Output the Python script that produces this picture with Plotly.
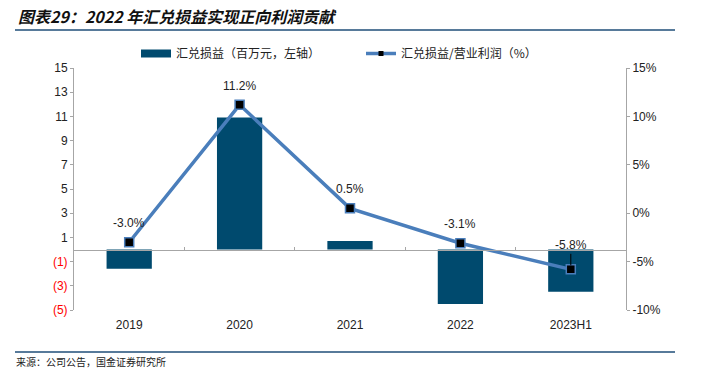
import plotly.graph_objects as go

categories = ["2019", "2020", "2021", "2022", "2023H1"]
fx_gain = [-1.6, 10.9, 0.7, -4.5, -3.5]          # 汇兑损益（百万元）
fx_ratio = [-3.0, 11.2, 0.5, -3.1, -5.8]         # 汇兑损益/营业利润（%）
ratio_labels = ["-3.0%", "11.2%", "0.5%", "-3.1%", "-5.8%"]
left_ticks = [15, 13, 11, 9, 7, 5, 3, 1, -1, -3, -5]
left_ticktext = ["15", "13", "11", "9", "7", "5", "3", "1",
                 "<span style='color:#FF0000'>(1)</span>",
                 "<span style='color:#FF0000'>(3)</span>",
                 "<span style='color:#FF0000'>(5)</span>"]
right_ticks = [15, 10, 5, 0, -5, -10]
right_ticktext = ["15%", "10%", "5%", "0%", "-5%", "-10%"]

BAR = "#004A6E"
LINE = "#4A7EBB"
FONT = "Liberation Sans, Arial, sans-serif"
CJK = "Noto Sans CJK SC"

fig = go.Figure()
fig.add_trace(go.Bar(
    x=categories, y=fx_gain, name="汇兑损益（百万元，左轴）", showlegend=False,
    marker=dict(color=BAR, line=dict(width=0)), yaxis="y", xaxis="x",
))
fig.add_trace(go.Scatter(
    x=categories, y=fx_ratio, name="汇兑损益/营业利润（%）", showlegend=False,
    mode="lines+markers",
    line=dict(color=LINE, width=3.5),
    marker=dict(symbol="square", size=9, color="#000000", line=dict(color=LINE, width=1.5)),
    yaxis="y2", xaxis="x", cliponaxis=False,
))
# legend entries styled like the reference (no visible data)
fig.add_trace(go.Scatter(x=categories[:1], y=[None], mode="lines", name="汇兑损益（百万元，左轴）",
                         line=dict(color=BAR, width=8), xaxis="x", yaxis="y", hoverinfo="skip"))
fig.add_trace(go.Scatter(x=categories[:1], y=[None], mode="lines+markers", name="汇兑损益/营业利润（%）",
                         line=dict(color=LINE, width=3.5),
                         marker=dict(symbol="square", size=5, color="#000000"),
                         xaxis="x", yaxis="y2", hoverinfo="skip"))
# helper trace for the zero-line category axis
fig.add_trace(go.Scatter(x=categories, y=[None] * len(categories), xaxis="x2", yaxis="y",
                         showlegend=False, hoverinfo="skip", mode="markers"))

for i, (c, v, t) in enumerate(zip(categories, fx_ratio, ratio_labels)):
    last = i == len(categories) - 1
    fig.add_annotation(x=i, y=v, xref="x", yref="y2", text=t,
                       showarrow=last, arrowhead=0, arrowwidth=1, arrowcolor="#000000",
                       ax=0, ay=-24, standoff=4,
                       yshift=0 if last else 19,
                       font=dict(size=12, color="#222222", family=FONT))

fig.update_layout(
    width=701, height=370,
    margin=dict(l=74, r=75, t=68, b=60, autoexpand=False),
    paper_bgcolor="white", plot_bgcolor="white",
    font=dict(family=FONT, size=12, color="#222222"),
    bargap=0.59,
    showlegend=True,
    legend=dict(orientation="h", x=(136 - 74) / 552, y=1.0, xanchor="left", yanchor="bottom",
                font=dict(size=12, color="#222222", family=CJK), itemwidth=30,
                entrywidth=180, entrywidthmode="pixels",
                bgcolor="rgba(0,0,0,0)"),
    xaxis=dict(type="category", categoryorder="array", categoryarray=categories,
               range=[-0.5, len(categories) - 0.5],
               showline=False, ticks="", showgrid=False,
               zeroline=False, ticklabelstandoff=6, tickfont=dict(size=12, color="#222222")),
    xaxis2=dict(type="category", overlaying="x", categoryorder="array", categoryarray=categories,
                range=[-0.5, len(categories) - 0.5], anchor="free", position=0.25,
                side="bottom", showline=True, linecolor="#A6A6A6", linewidth=1,
                ticks="inside", ticklen=3, tickcolor="#A6A6A6", tickson="boundaries",
                showticklabels=False, showgrid=False, zeroline=False),
    yaxis=dict(range=[-5, 15], tickvals=left_ticks, ticktext=left_ticktext,
               showline=True, linecolor="#A6A6A6", linewidth=1, ticks="outside",
               ticklen=3, tickcolor="#A6A6A6", showgrid=False, zeroline=False,
               tickfont=dict(size=12, color="#222222")),
    yaxis2=dict(range=[-10, 15], tickvals=right_ticks, ticktext=right_ticktext, overlaying="y",
                side="right", showline=True, linecolor="#A6A6A6", linewidth=1,
                ticks="outside", ticklen=3, tickcolor="#A6A6A6", showgrid=False,
                zeroline=False, tickfont=dict(size=12, color="#222222")),
)

fig.add_annotation(text="<b><i>图表29：2022 年汇兑损益实现正向利润贡献</i></b>",
                   xref="paper", yref="paper", x=(16 - 74) / 552, y=1 + (68 - 16) / 242,
                   xanchor="left", yanchor="middle", showarrow=False,
                   font=dict(size=16, color="#111111", family=CJK))
fig.add_annotation(text="来源：公司公告，国金证券研究所",
                   xref="paper", yref="paper", x=(15 - 74) / 552, y=-(353 - 310) / 242,
                   xanchor="left", yanchor="top", showarrow=False, borderpad=0,
                   font=dict(size=10, color="#222222", family=CJK))
# header and footer rules
fig.add_shape(type="line", xref="paper", yref="paper", x0=(15 - 74) / 552, x1=(675 - 74) / 552,
              y0=1 + (68 - 30) / 242, y1=1 + (68 - 30) / 242, line=dict(color="#1F4E79", width=1.5))
fig.add_shape(type="line", xref="paper", yref="paper", x0=(15 - 74) / 552, x1=(675 - 74) / 552,
              y0=-(352 - 310) / 242, y1=-(352 - 310) / 242, line=dict(color="#1F4E79", width=1.5))

fig.write_html("out.html", config={"displayModeBar": False},
               post_script="document.body.style.margin='0';document.body.style.overflow='hidden';")
